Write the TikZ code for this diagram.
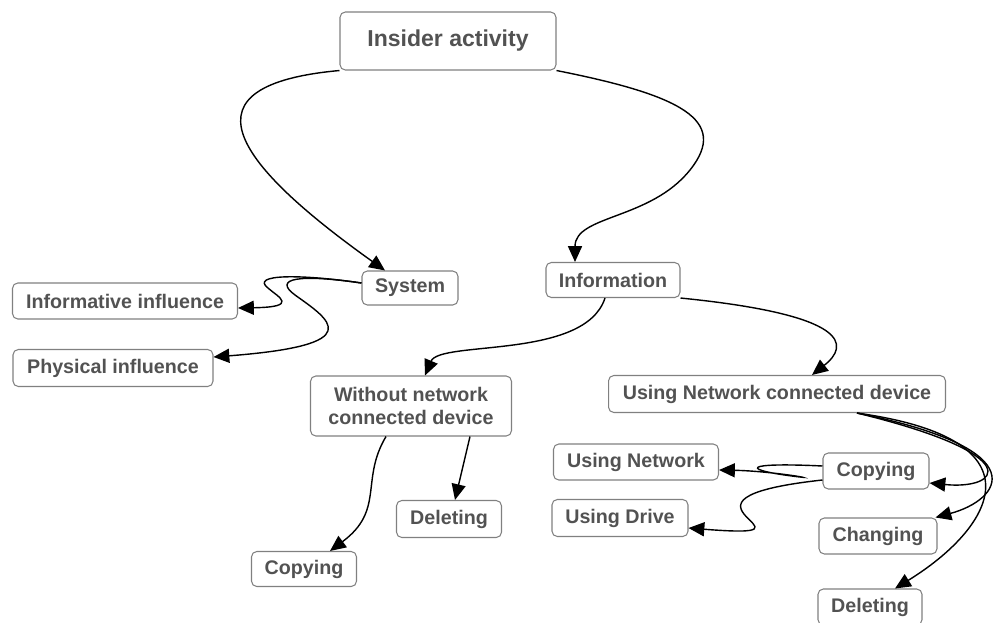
\documentclass[tikz,border=0pt]{standalone}
\usepackage{fontspec}
\setmainfont{Liberation Sans}
\usetikzlibrary{arrows.meta}
\begin{document}
\begin{tikzpicture}[x=0.02cm, y=-0.02cm,
    box/.style={draw=black!50, rounded corners=3pt, line width=0.6pt, text=black!68,
        font=\bfseries\fontsize{11.2}{13.6}\selectfont, inner sep=0pt, align=center},
    link/.style={line width=0.8pt, -{Triangle[length=9pt, width=8pt]}}]
    \useasboundingbox (0,0) rectangle (1000,622);
    % topics
    \node[box, minimum width=4.32cm, minimum height=1.16cm, font=\bfseries\fontsize{13.1}{15}\selectfont] (act) at (448,41) {Insider activity};
    \node[box, minimum width=1.92cm, minimum height=0.68cm] (sys) at (410,288) {System};
    \node[box, minimum width=2.68cm, minimum height=0.70cm] (info) at (613,280) {Information};
    \node[box, minimum width=4.50cm, minimum height=0.72cm] (infl) at (125,301) {Informative influence};
    \node[box, minimum width=4.00cm, minimum height=0.74cm] (phys) at (113,368) {Physical influence};
    \node[box, minimum width=4.02cm, minimum height=1.20cm] (wo) at (411,406) {Without network\\connected device};
    \node[box, minimum width=6.74cm, minimum height=0.74cm] (ncd) at (777,394) {Using Network connected device};
    \node[box, minimum width=2.10cm, minimum height=0.74cm] (delA) at (449,519) {Deleting};
    \node[box, minimum width=2.10cm, minimum height=0.70cm] (copA) at (304,569) {Copying};
    \node[box, minimum width=3.30cm, minimum height=0.72cm] (net) at (636,462) {Using Network};
    \node[box, minimum width=2.72cm, minimum height=0.74cm] (drv) at (620,518) {Using Drive};
    \node[box, minimum width=2.12cm, minimum height=0.72cm] (copB) at (876,471) {Copying};
    \node[box, minimum width=2.36cm, minimum height=0.72cm] (chg) at (878,536) {Changing};
    \node[box, minimum width=2.08cm, minimum height=0.72cm] (delB) at (870,607) {Deleting};

    % branches
    \draw[link] (act.south west) .. controls (180,85) and (230,160) .. ([xshift=-0.5cm]sys.north);
    \draw[link] (act.south east) .. controls (680,95) and (730,120) .. (690,170)
        .. controls (650,220) and (575,215) .. ([xshift=-0.76cm]info.north);
    \draw[link] ([yshift=0.1cm]sys.west) .. controls (300,274) and (250,274) .. (268,288)
        .. controls (278,297) and (300,307) .. ([yshift=-0.14cm]infl.east);
    \draw[link] ([yshift=0.1cm]sys.west) .. controls (300,274) and (272,278) .. (295,295)
        .. controls (330,320) and (370,345) .. ([yshift=0.22cm]phys.east);
    \draw[link] ([xshift=-0.16cm]info.south) .. controls (585,360) and (440,340) .. ([xshift=0.28cm]wo.north);
    \draw[link] (info.south east) .. controls (850,315) and (850,345) .. ([xshift=0.7cm]ncd.north);
    \draw[link] ([xshift=-0.5cm]wo.south) .. controls (360,480) and (385,510) .. ([xshift=0.52cm]copA.north);
    \draw[link] ([xshift=1.18cm]wo.south) -- ([xshift=0.12cm]delA.north);
    \draw[link] ([xshift=1.6cm]ncd.south) .. controls (1030,455) and (1000,490) .. ([yshift=-0.24cm]copB.east);
    \draw[link] ([xshift=1.6cm]ncd.south) .. controls (1040,450) and (1000,500) .. ([xshift=-0.04cm]chg.north east);
    \draw[link] ([xshift=1.6cm]ncd.south) .. controls (1050,440) and (990,530) .. ([xshift=0.5cm]delB.north);
    \draw[link] ([yshift=0.1cm]copB.west) .. controls (740,462) and (740,470) .. (800,477)
        .. controls (815,479) and (770,471) .. ([yshift=-0.16cm]net.east);
    \draw[link] ([yshift=-0.18cm]copB.west) .. controls (640,500) and (840,540) .. ([yshift=-0.2cm]drv.east);
\end{tikzpicture}
\end{document}
